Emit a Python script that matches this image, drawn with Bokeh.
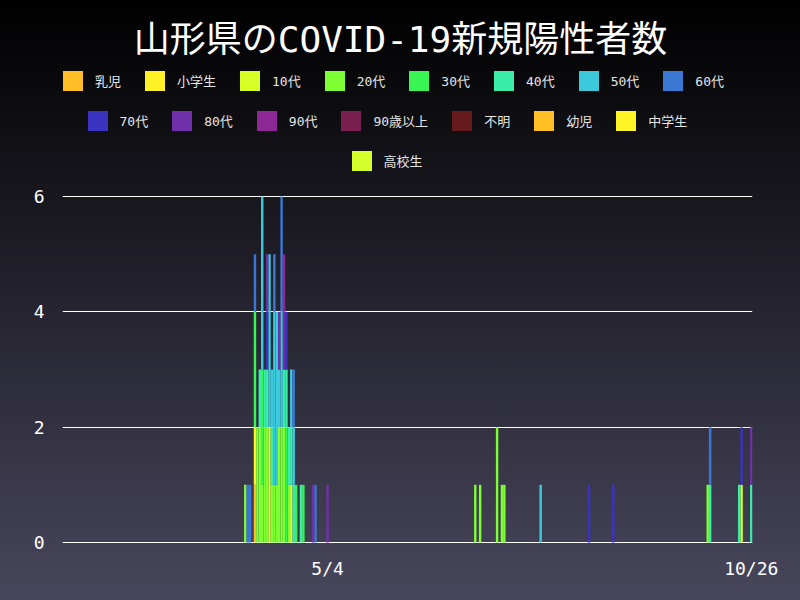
import pandas as pd
from bokeh.plotting import figure
from bokeh.models import ColumnDataSource, Range1d, FixedTicker, Legend, LegendItem, Label
from bokeh.embed import file_html
from bokeh.resources import INLINE

# 日別・年代別の新規陽性者数 (2020/1/16 ～ 10/26)
start_day = "2020-01-16"
end_day = "2020-10-26"
tick_days = ["2020-05-04", "2020-10-26"]
tick_labels = ["5/4", "10/26"]

groups = ["乳児", "小学生", "10代", "20代", "30代", "40代", "50代", "60代",
          "70代", "80代", "90代", "90歳以上", "不明", "幼児", "中学生", "高校生"]
colors = ["#ffbe26", "#fff126", "#d7ff26", "#7dff33", "#38f553", "#3aeeaa", "#3bcadb", "#3b78d4",
          "#3a33c0", "#7030aa", "#8e2896", "#7a2050", "#661c1c", "#ffc026", "#fff426", "#d7ff2a"]

# 陽性者がいた日
dates = ["2020-03-31", "2020-04-01", "2020-04-02", "2020-04-04", "2020-04-05",
         "2020-04-06", "2020-04-07", "2020-04-08", "2020-04-09", "2020-04-10",
         "2020-04-11", "2020-04-12", "2020-04-13", "2020-04-14", "2020-04-15",
         "2020-04-16", "2020-04-17", "2020-04-18", "2020-04-19", "2020-04-20",
         "2020-04-21", "2020-04-23", "2020-04-24", "2020-04-28", "2020-04-29",
         "2020-05-04", "2020-07-04", "2020-07-06", "2020-07-13", "2020-07-15",
         "2020-07-16", "2020-07-31", "2020-08-20", "2020-08-30", "2020-10-08",
         "2020-10-09", "2020-10-21", "2020-10-22", "2020-10-26"]

nyuji =     [0, 0, 0, 1, 0, 0, 0, 0, 0, 0,  0, 0, 0, 0, 0, 0, 0, 0, 0, 0,  0, 0, 0, 0, 0, 0, 0, 0, 0, 0,  0, 0, 0, 0, 0, 0, 0, 0, 0]
shogaku =   [0, 0, 0, 1, 0, 0, 0, 0, 0, 0,  0, 0, 0, 0, 0, 0, 0, 0, 0, 0,  0, 0, 0, 0, 0, 0, 0, 0, 0, 0,  0, 0, 0, 0, 0, 0, 0, 0, 0]
age10 =     [0, 0, 0, 0, 0, 0, 0, 0, 0, 2,  0, 0, 0, 0, 0, 0, 0, 0, 1, 0,  0, 0, 0, 0, 0, 0, 0, 0, 0, 0,  0, 0, 0, 0, 0, 0, 0, 1, 0]
age20 =     [1, 0, 0, 0, 2, 2, 1, 2, 2, 0,  1, 1, 1, 2, 2, 2, 0, 1, 0, 0,  0, 0, 0, 0, 0, 0, 1, 1, 2, 1,  1, 0, 0, 0, 1, 0, 0, 0, 0]
age30 =     [0, 0, 0, 2, 0, 0, 2, 0, 0, 0,  0, 0, 0, 0, 0, 0, 2, 0, 0, 0,  1, 0, 1, 0, 0, 0, 0, 0, 0, 0,  0, 0, 0, 0, 0, 0, 0, 0, 0]
age40 =     [0, 0, 0, 0, 0, 1, 0, 1, 1, 0,  1, 0, 0, 0, 0, 1, 1, 1, 1, 1,  0, 1, 0, 0, 0, 0, 0, 0, 0, 0,  0, 0, 0, 0, 0, 1, 1, 0, 1]
age50 =     [0, 0, 0, 0, 0, 0, 3, 0, 0, 3,  1, 3, 3, 1, 2, 0, 0, 0, 1, 1,  0, 0, 0, 0, 0, 0, 0, 0, 0, 0,  0, 1, 0, 0, 0, 0, 0, 0, 0]
age60 =     [0, 1, 1, 1, 0, 0, 0, 0, 0, 0,  0, 1, 0, 0, 2, 0, 0, 0, 0, 1,  0, 0, 0, 0, 1, 0, 0, 0, 0, 0,  0, 0, 0, 0, 0, 1, 0, 0, 0]
age70 =     [0, 0, 0, 0, 0, 0, 0, 0, 1, 0,  0, 0, 0, 0, 0, 0, 1, 0, 0, 0,  0, 0, 0, 0, 0, 0, 0, 0, 0, 0,  0, 0, 1, 1, 0, 0, 0, 1, 0]
age80 =     [0, 0, 0, 0, 0, 0, 0, 0, 1, 0,  0, 0, 0, 1, 0, 1, 0, 0, 0, 0,  0, 0, 0, 1, 0, 1, 0, 0, 0, 0,  0, 0, 0, 0, 0, 0, 0, 0, 1]
age90 =     [0, 0, 0, 0, 0, 0, 0, 0, 0, 0,  0, 0, 0, 0, 0, 1, 0, 0, 0, 0,  0, 0, 0, 0, 0, 0, 0, 0, 0, 0,  0, 0, 0, 0, 0, 0, 0, 0, 0]
no_cases = [0] * len(dates)   # 90歳以上, 不明, 幼児, 中学生, 高校生 は0人

series = [nyuji, shogaku, age10, age20, age30, age40, age50, age60,
          age70, age80, age90, no_cases, no_cases, no_cases, no_cases, no_cases]

FONT = "DejaVu Sans Mono, Noto Sans CJK JP"

t0 = pd.Timestamp(start_day)
n_days = (pd.Timestamp(end_day) - t0).days + 1
data = {"x": [(pd.Timestamp(d) - t0).days for d in dates]}
for g, s in zip(groups, series):
    data[g] = s
source = ColumnDataSource(data)

# 枠は画面の上端まで。上の余白(6より上)にタイトルと凡例を置く
p = figure(width=800, height=600, x_range=Range1d(-0.5, n_days - 0.5),
           y_range=Range1d(-0.0173, 9.399), title=None,
           output_backend="svg", toolbar_location=None,
           min_border_left=62, min_border_right=48, min_border_top=0, min_border_bottom=57)
p.styles = {"position": "absolute", "left": "0px", "top": "0px",
            "background": "linear-gradient(#000000, #48465c)"}
p.background_fill_alpha = 0
p.border_fill_alpha = 0
p.outline_line_color = None

bars = p.vbar_stack(groups, x="x", width=1.0, color=colors, line_color=None, source=source)

# 軸
ticks = [(pd.Timestamp(d) - t0).days for d in tick_days]
p.xaxis.ticker = FixedTicker(ticks=ticks)
p.xaxis.major_label_overrides = dict(zip(ticks, tick_labels))
p.yaxis.ticker = FixedTicker(ticks=[0, 2, 4, 6])
for ax in (p.xaxis, p.yaxis):
    ax.axis_line_color = None
    ax.major_tick_line_color = None
    ax.minor_tick_line_color = None
    ax.major_label_text_color = "#ffffff"
    ax.major_label_text_font = FONT
    ax.major_label_text_font_size = "18px"
p.xaxis.major_label_standoff = 8
p.yaxis.major_label_standoff = 12
p.xgrid.grid_line_color = None
p.ygrid.grid_line_color = "#ffffff"
p.ygrid.grid_line_width = 1

# タイトル
p.add_layout(Label(x=338, y=504, x_units="screen", y_units="screen", text="山形県のCOVID-19新規陽性者数",
                   text_align="center", text_baseline="middle", text_color="#ffffff",
                   text_font=FONT, text_font_size="36px"))

# 凡例 (3段)
rows = [(0, 8, -2, 450.5), (8, 15, 22.5, 410.5), (15, 16, 286.5, 370.5)]
for a, b, vx, vy in rows:
    items = [LegendItem(label=groups[k], renderers=[bars[k]]) for k in range(a, b)]
    lg = Legend(items=items, orientation="horizontal", location=(vx, vy),
                glyph_width=25, glyph_height=25, label_standoff=10, spacing=21,
                padding=0, margin=0, background_fill_alpha=0, border_line_alpha=0,
                label_text_color="#e6e6e6", label_text_font=FONT, label_text_font_size="13px")
    p.add_layout(lg, "center")

open("out.html", "w").write(file_html(p, INLINE))
